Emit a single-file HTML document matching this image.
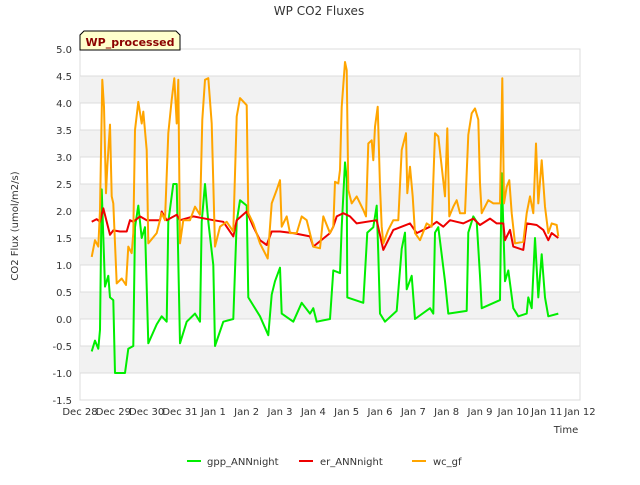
<!DOCTYPE html>
<html><head><meta charset="utf-8"><style>
body{margin:0;background:#fff;}
svg text{font-family:"DejaVu Sans","Liberation Sans",sans-serif;}
</style></head><body>
<svg id="chart" width="640" height="480" xmlns="http://www.w3.org/2000/svg">
<text x="319" y="15" text-anchor="middle" font-size="12" fill="#333">WP CO2 Fluxes</text>
<g id="bands"></g><g id="grid"></g>
<g id="series"></g>
<g id="yticks"></g><g id="xticks"></g>
<text transform="translate(18,226) rotate(-90)" text-anchor="middle" font-size="10" fill="#333">CO2 Flux (umol/m2/s)</text>
<text x="566" y="433" text-anchor="middle" font-size="10" fill="#333">Time</text>
<g>
<path d="M84,31 L176,31 L180,35 L180,50 L80,50 L80,35 Z" fill="#ffffcc" stroke="#000" stroke-width="1"/>
<text x="130" y="46" text-anchor="middle" font-size="11" font-weight="bold" fill="#8b0000">WP_processed</text>
</g>
<g>
<g><line x1="187" y1="461" x2="201" y2="461" stroke="#00ee00" stroke-width="2"/><text x="207" y="465" font-size="10" fill="#333">gpp_ANNnight</text></g>
<g><line x1="299" y1="461" x2="313" y2="461" stroke="#ee0000" stroke-width="2"/><text x="320" y="465" font-size="10" fill="#333">er_ANNnight</text></g>
<g><line x1="412" y1="461" x2="426" y2="461" stroke="#ffa500" stroke-width="2"/><text x="433" y="465" font-size="10" fill="#333">wc_gf</text></g>
</g>
</svg>
<script>
const xTickLabels=["Dec 28","Dec 29","Dec 30","Dec 31","Jan 1","Jan 2","Jan 3","Jan 4","Jan 5","Jan 6","Jan 7","Jan 8","Jan 9","Jan 10","Jan 11","Jan 12"];
const yTicks=[-1.5,-1.0,-0.5,0.0,0.5,1.0,1.5,2.0,2.5,3.0,3.5,4.0,4.5,5.0];
const gppDays=[0.35,0.45,0.55,0.6,0.65,0.75,0.85,0.9,1.0,1.05,1.35,1.45,1.6,1.65,1.75,1.85,1.95,2.05,2.3,2.45,2.6,2.65,2.8,2.9,3.0,3.2,3.45,3.6,3.65,3.75,3.85,4.0,4.05,4.3,4.6,4.7,4.8,5.0,5.05,5.4,5.65,5.75,5.85,6.0,6.05,6.4,6.65,6.9,7.0,7.1,7.5,7.6,7.8,7.85,7.95,8.0,8.02,8.5,8.62,8.8,8.9,8.95,9.0,9.15,9.5,9.65,9.75,9.8,9.95,10.05,10.5,10.6,10.65,10.75,10.95,11.05,11.6,11.65,11.8,11.9,12.0,12.05,12.6,12.65,12.75,12.85,13.0,13.15,13.4,13.45,13.55,13.65,13.75,13.85,13.95,14.05,14.35];
const gppVals=[-0.6,-0.4,-0.55,-0.2,2.4,0.6,0.8,0.4,0.35,-1.0,-1.0,-0.55,-0.5,1.7,2.1,1.5,1.7,-0.45,-0.1,0.05,-0.05,1.8,2.5,2.5,-0.45,-0.05,0.1,-0.05,1.8,2.5,1.8,1.0,-0.5,-0.05,0.0,1.8,2.2,2.1,0.4,0.05,-0.3,0.45,0.7,0.95,0.1,-0.05,0.3,0.1,0.2,-0.05,0.0,0.9,0.85,1.7,2.9,2.6,0.4,0.3,1.6,1.7,2.1,1.2,0.1,-0.05,0.15,1.3,1.6,0.55,0.8,0.0,0.2,0.1,1.6,1.7,0.7,0.1,0.15,1.6,1.9,1.8,0.8,0.2,0.35,2.7,0.7,0.9,0.2,0.05,0.1,0.4,0.2,1.5,0.4,1.2,0.4,0.05,0.1];
const erDays=[0.35,0.5,0.6,0.7,0.8,0.9,1.0,1.2,1.4,1.5,1.6,1.8,2.0,2.2,2.4,2.45,2.6,2.9,3.0,3.4,4.0,4.3,4.6,4.7,5.0,5.2,5.4,5.6,5.75,6.0,6.4,6.9,7.0,7.5,7.6,7.7,7.9,8.1,8.3,8.9,9.1,9.4,9.9,10.1,10.5,10.7,10.9,11.1,11.3,11.5,11.8,12.0,12.3,12.5,12.7,12.75,12.9,13.0,13.3,13.4,13.7,13.9,14.05,14.15,14.35];
const erVals=[1.8,1.85,1.8,2.05,1.8,1.56,1.64,1.62,1.62,1.83,1.8,1.9,1.83,1.83,1.83,1.99,1.83,1.93,1.83,1.9,1.83,1.8,1.53,1.83,1.99,1.71,1.46,1.37,1.62,1.62,1.59,1.53,1.34,1.59,1.71,1.9,1.96,1.9,1.77,1.83,1.28,1.65,1.77,1.59,1.71,1.8,1.71,1.83,1.8,1.77,1.86,1.74,1.86,1.77,1.77,1.46,1.65,1.34,1.28,1.77,1.74,1.65,1.46,1.59,1.5];
const wcDays=[0.35,0.45,0.55,0.6,0.67,0.72,0.78,0.82,0.9,0.95,1.0,1.1,1.25,1.38,1.45,1.55,1.6,1.65,1.75,1.85,1.9,2.0,2.05,2.3,2.45,2.55,2.65,2.75,2.83,2.9,2.95,3.0,3.1,3.3,3.45,3.6,3.67,3.75,3.85,3.95,4.05,4.2,4.4,4.6,4.7,4.8,5.0,5.05,5.2,5.4,5.63,5.75,5.9,6.0,6.05,6.2,6.3,6.5,6.65,6.8,7.0,7.2,7.3,7.5,7.6,7.65,7.75,7.8,7.85,7.95,8.0,8.05,8.15,8.3,8.5,8.58,8.65,8.75,8.8,8.85,8.93,9.0,9.05,9.1,9.25,9.4,9.55,9.65,9.78,9.82,9.9,9.98,10.05,10.2,10.4,10.55,10.65,10.75,10.85,10.95,11.02,11.08,11.2,11.3,11.4,11.55,11.65,11.75,11.85,11.95,12.0,12.05,12.25,12.4,12.6,12.67,12.72,12.8,12.88,12.95,13.05,13.3,13.4,13.5,13.6,13.68,13.75,13.85,13.95,14.05,14.15,14.3,14.35];
const wcVals=[1.15,1.46,1.34,2.02,4.43,3.93,2.33,2.82,3.6,2.27,2.14,0.66,0.75,0.63,1.34,1.22,1.59,3.5,4.02,3.62,3.84,3.13,1.4,1.59,1.96,1.83,3.44,4.06,4.46,3.62,4.43,1.4,1.83,1.83,2.08,1.93,3.69,4.43,4.46,3.62,1.34,1.71,1.8,1.62,3.75,4.09,3.96,1.96,1.77,1.4,1.12,2.14,2.39,2.57,1.71,1.9,1.59,1.59,1.9,1.83,1.34,1.31,1.9,1.59,1.71,2.54,2.51,2.76,3.93,4.76,4.61,2.39,2.14,2.27,2.02,1.9,3.25,3.31,2.94,3.56,3.93,2.45,1.71,1.4,1.65,1.83,1.83,3.13,3.44,2.33,2.82,2.27,1.59,1.46,1.77,1.71,3.44,3.38,2.82,2.27,3.53,1.9,2.08,2.2,1.96,1.96,3.41,3.81,3.9,3.69,2.51,1.96,2.2,2.14,2.14,4.46,2.14,2.45,2.57,1.96,1.4,1.43,1.96,2.27,1.96,3.25,2.14,2.94,2.08,1.59,1.77,1.74,1.53];

const NS="http://www.w3.org/2000/svg";
const X0=80,X1=580,Y0=49,Y1=400,DMIN=0,DMAX=15,VMIN=-1.5,VMAX=5.0;
function xs(d){return X0+(d-DMIN)/(DMAX-DMIN)*(X1-X0);}
function ys(v){return Y1-(v-VMIN)/(VMAX-VMIN)*(Y1-Y0);}
function mk(tag,attrs,parent){const e=document.createElementNS(NS,tag);for(const k in attrs)e.setAttribute(k,attrs[k]);parent.appendChild(e);return e;}
const bands=document.getElementById('bands'),grid=document.getElementById('grid');
mk('rect',{x:X0,y:Y0,width:X1-X0,height:Y1-Y0,fill:'#fff',stroke:'#ddd'},bands);
for(let i=0;i<yTicks.length-1;i++){
  if(i%2===1){const b=mk('rect',{x:X0,y:ys(yTicks[i+1]),width:X1-X0,height:ys(yTicks[i])-ys(yTicks[i+1]),fill:'#f2f2f2'},bands);
  
  }
}
const yt=document.getElementById('yticks');
yTicks.forEach(v=>{
  const l=mk('line',{x1:X0,x2:X1,y1:ys(v),y2:ys(v),stroke:'#dcdcdc','stroke-width':1},grid);
  
  
  const t=mk('text',{x:72,y:ys(v)+4,'text-anchor':'end','font-size':10,fill:'#333'},yt);
  t.textContent=v.toFixed(1);
  
  
});
const xt=document.getElementById('xticks');
xTickLabels.forEach((s,i)=>{
  const t=mk('text',{x:xs(i),y:415,'text-anchor':'middle','font-size':10,fill:'#333'},xt);
  t.textContent=s;
  
  
});
const ser=document.getElementById('series');
function line(days,vals,color,name){
  const d=days.map((t,i)=>(i?'L':'M')+xs(t).toFixed(1)+','+ys(vals[i]).toFixed(1)).join(' ');
  const p=mk('path',{d:d,fill:'none',stroke:color,'stroke-width':2,'stroke-linejoin':'round'},ser);
  
  
}
line(gppDays,gppVals,'#00ee00','gpp-line');
line(erDays,erVals,'#ee0000','er-line');
line(wcDays,wcVals,'#ffa500','wc-line');
</script>
</body></html>
